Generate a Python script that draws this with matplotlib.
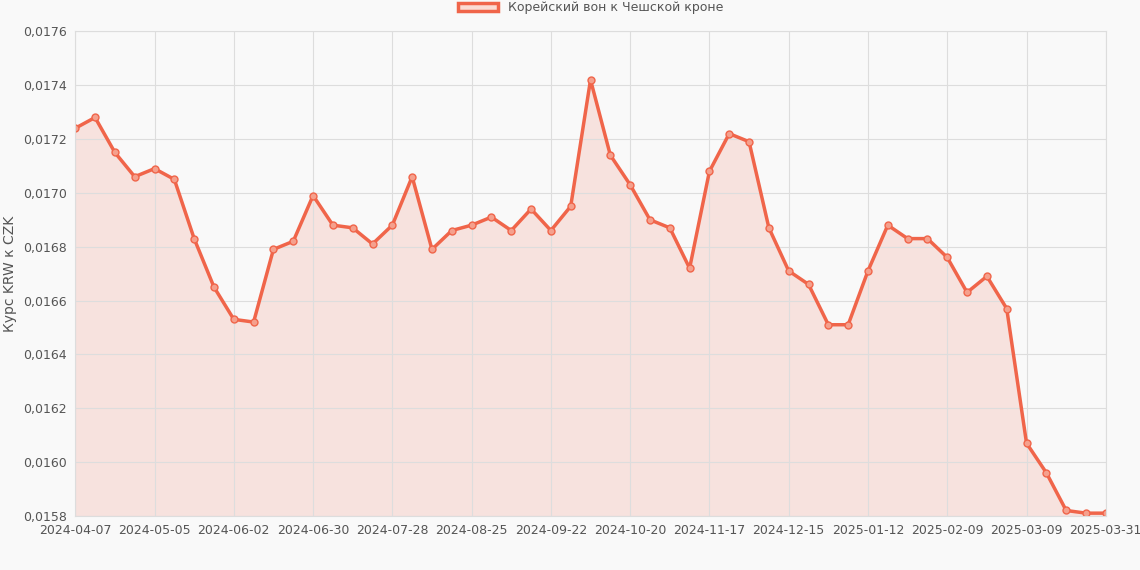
import numpy as np
import pandas as pd
import matplotlib
matplotlib.use("Agg")
import matplotlib.pyplot as plt

dates = [d.strftime("%Y-%m-%d") for d in pd.date_range("2024-04-07", periods=53, freq="7D")]
dates[-1] = "2025-03-31"
rates = [0.01724, 0.01728, 0.01715, 0.01706, 0.01709, 0.01705, 0.01683, 0.01665, 0.01653, 0.01652,
         0.01679, 0.01682, 0.01699, 0.01688, 0.01687, 0.01681, 0.01688, 0.01706, 0.01679, 0.01686,
         0.01688, 0.01691, 0.01686, 0.01694, 0.01686, 0.01695, 0.01742, 0.01714, 0.01703, 0.01690,
         0.01687, 0.01672, 0.01708, 0.01722, 0.01719, 0.01687, 0.01671, 0.01666, 0.01651, 0.01651,
         0.01671, 0.01688, 0.01683, 0.01683, 0.01676, 0.01663, 0.01669, 0.01657, 0.01607, 0.01596,
         0.01582, 0.01581, 0.01581]
label = "Корейский вон к Чешской кроне"

line_col = "#f0654a"
bg = "#f9f9f9"

fig = plt.figure(figsize=(11.4, 5.7), dpi=100, facecolor=bg)
ax = fig.add_axes([0.066, 0.095, 0.904, 0.85], facecolor=bg)
x = np.arange(len(rates))
ax.fill_between(x, rates, 0.0158, color=line_col, alpha=0.15, linewidth=0)
ax.plot(x, rates, color=line_col, linewidth=2.5, marker="o", markersize=5,
        markerfacecolor="#f5a08d", markeredgecolor=line_col, markeredgewidth=1)

ax.set_xlim(0, len(rates) - 1)
ax.set_ylim(0.0158, 0.0176)
ticks = list(range(0, len(rates), 4))
if ticks[-1] != len(rates) - 1:
    ticks.append(len(rates) - 1)
ax.set_xticks(ticks)
ax.set_xticklabels([dates[i] for i in ticks])
yt = np.arange(0.0158, 0.01761, 0.0002)
ax.set_yticks(yt)
ax.set_yticklabels([f"{v:.4f}".replace(".", ",") for v in yt])
ax.tick_params(colors="#555555", labelsize=9, length=0, pad=6)
ax.grid(True, color="#dddddd", linewidth=0.8)
for s in ax.spines.values():
    s.set_color("#dddddd")
ax.set_ylabel("Курс KRW к CZK", color="#555555", fontsize=10)

handle = plt.Rectangle((0, 0), 1, 1, facecolor="#fbdcd4", edgecolor=line_col, linewidth=2.5)
ax.legend([handle], [label], loc="upper center", bbox_to_anchor=(0.5, 1.085),
          frameon=False, fontsize=9, labelcolor="#555555", handlelength=3.2)

fig.savefig("out.png", dpi=100, facecolor=bg)
